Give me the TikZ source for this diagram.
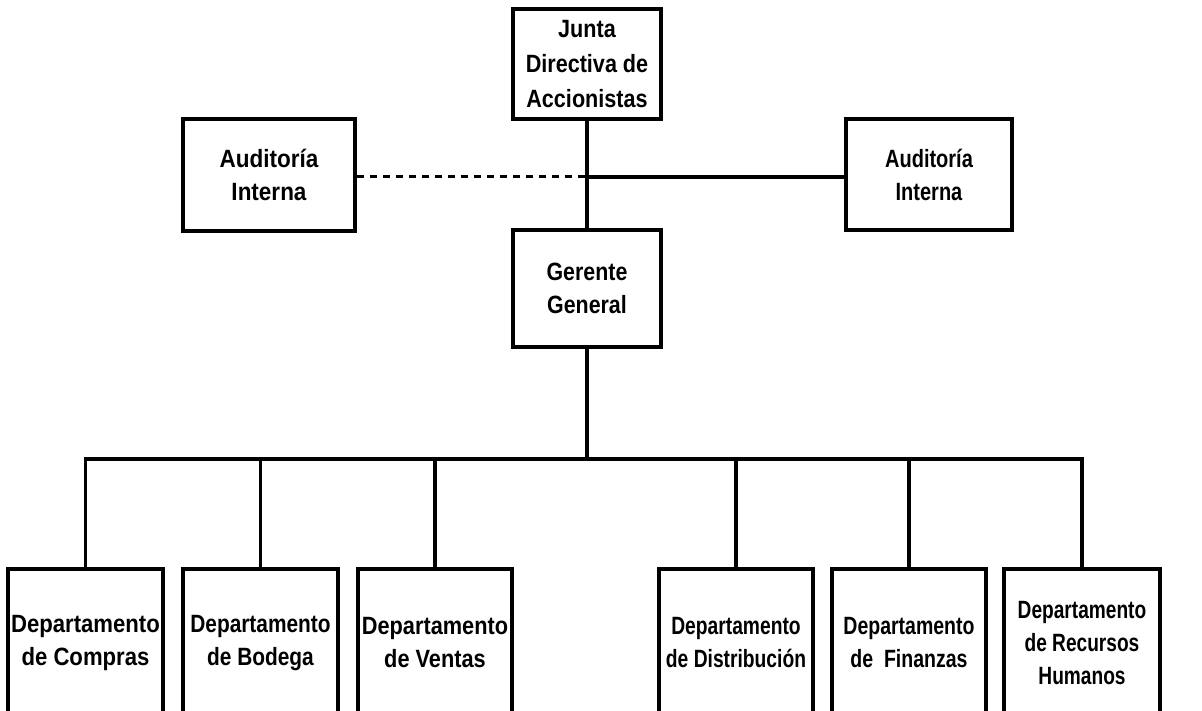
\documentclass[tikz,border=0pt]{standalone}
\usepackage{fontspec}
\setmainfont{Liberation Sans}
\begin{document}
\begin{tikzpicture}[x=1pt,y=-1pt,
  orgbox/.style={draw=black, line width=3.6pt, fill=white, inner sep=0pt, align=center},
  txt/.style={font=\fontsize{25}{33}\selectfont\bfseries\addfontfeature{FakeStretch=#1}},
  txtj/.style={font=\fontsize{25}{35}\selectfont\bfseries\addfontfeature{FakeStretch=#1}},
  link/.style={draw=black, line width=3.6pt},
  dotlink/.style={draw=black, line width=3pt, dash pattern=on 7pt off 6pt}]
\useasboundingbox (0,0) rectangle (1202,711);
\clip (0,0) rectangle (1202,711);
\node[orgbox, txtj=0.864, minimum width=148pt, minimum height=110pt] (junta) at (587,64) {Junta\\Directiva de\\Accionistas};
\node[orgbox, txt=0.90, minimum width=172pt, minimum height=112pt] (audL) at (269,175) {Auditoría\\Interna};
\node[orgbox, txt=0.80, minimum width=166pt, minimum height=111pt] (audR) at (929,174.5) {Auditoría\\Interna};
\node[orgbox, txt=0.855, minimum width=148pt, minimum height=117pt] (ger) at (587,288.5) {Gerente\\General};
\node[orgbox, txt=0.885, minimum width=155pt, minimum height=148pt] (d1) at (85.5,643) {Departamento\\de Compras};
\node[orgbox, txt=0.835, minimum width=155pt, minimum height=148pt] (d2) at (260.5,643) {Departamento\\de Bodega};
\node[orgbox, txt=0.87, minimum width=154pt, minimum height=148pt] (d3) at (435,643) {Departamento\\de Ventas};
\node[orgbox, txt=0.77, minimum width=154pt, minimum height=148pt] (d4) at (736,643) {Departamento\\de Distribución};
\node[orgbox, txt=0.78, minimum width=154pt, minimum height=148pt] (d5) at (909,643) {Departamento\\de~~Finanzas};
\node[orgbox, txt=0.765, minimum width=156pt, minimum height=148pt] (d6) at (1082,643) {Departamento\\de Recursos\\Humanos};
\coordinate (j) at (587,177);
\coordinate (bus) at (587,459);
\draw[link] (junta.south) -- (ger.north);
\draw[dotlink] (audL.east |- j) -- (j);
\draw[link] (j) -- (audR.west |- j);
\draw[link] (ger.south) -- (bus);
\draw[link, line cap=rect] (d1.north |- bus) -- (d6.north |- bus);
\foreach \d in {d1,d2,d3,d4,d5,d6} {
  \draw[link] (\d.north) -- (\d.north |- bus);
}
\end{tikzpicture}
\end{document}
